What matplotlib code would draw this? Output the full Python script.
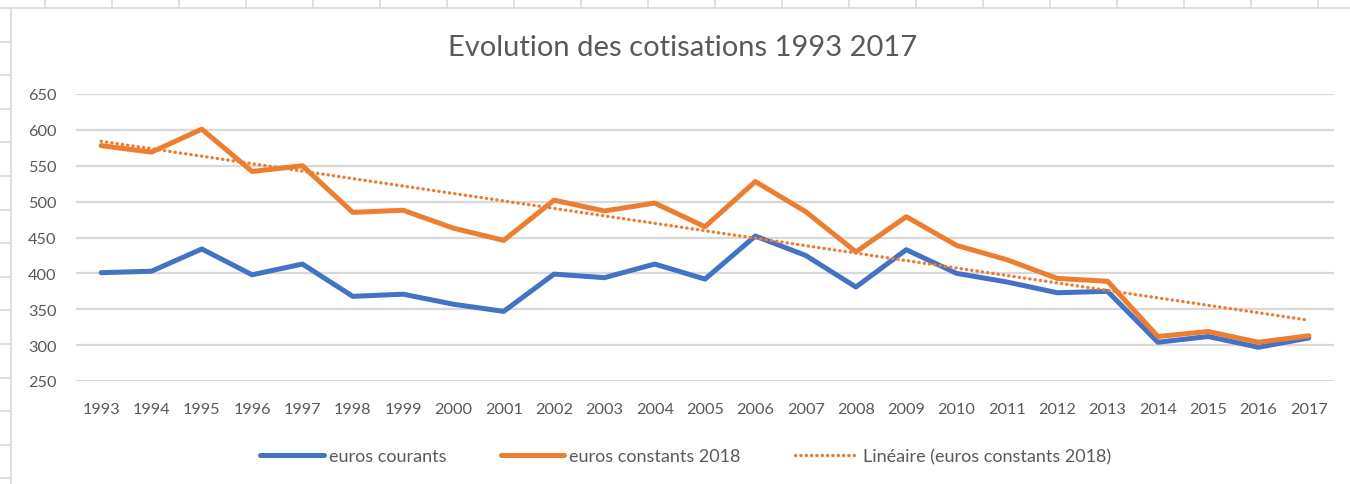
import matplotlib
matplotlib.use("Agg")
import matplotlib.pyplot as plt
import numpy as np
from matplotlib.lines import Line2D

years = list(range(1993, 2018))
euros_courants = [401, 403, 434, 398, 413, 368, 371, 357, 347, 399, 394, 413, 392, 452, 425,
                  381, 433, 400, 388, 373, 375, 304, 312, 297, 310]
euros_constants = [578, 569, 601, 542, 550, 485, 488, 463, 446, 502, 487, 498, 465, 528, 486,
                   430, 479, 439, 419, 393, 389, 312, 319, 304, 313]
yticks = [250, 300, 350, 400, 450, 500, 550, 600, 650]

title = "Evolution des cotisations 1993 2017"
labels = ["euros courants", "euros constants 2018", "Linéaire (euros constants 2018)"]

BLUE = "#4472C4"
ORANGE = "#ED7D31"
TXT = "#595959"
GRID = "#D9D9D9"

plt.rcParams['font.family'] = ['Lato', 'DejaVu Sans']

W, H = 1350, 485
fig = plt.figure(figsize=(W / 100, H / 100), dpi=100)
fig.patch.set_facecolor("white")

# spreadsheet background grid (outside the chart area)
sheet = "#D5DBE5"
for x in np.arange(45, W, 67):
    fig.add_artist(Line2D([x / W, x / W], [1, 1 - 9 / H], color=sheet, lw=1.2))
for y in np.arange(9, H, 33.6):
    fig.add_artist(Line2D([0, 11 / W], [1 - y / H, 1 - y / H], color=sheet, lw=1.2))
# chart border
fig.add_artist(Line2D([11 / W, 11 / W], [0, 1 - 9 / H], color="#D9D9D9", lw=1.2))
fig.add_artist(Line2D([11 / W, 1], [1 - 9 / H, 1 - 9 / H], color="#D9D9D9", lw=1.2))

ax = fig.add_axes([76 / W, 1 - 382 / H, (1334 - 76) / W, (382 - 95) / H])
x = np.arange(len(years))

ax.plot(x, euros_courants, color=BLUE, lw=3.6, solid_joinstyle="round", solid_capstyle="round",
        label=labels[0], zorder=3)
ax.plot(x, euros_constants, color=ORANGE, lw=3.6, solid_joinstyle="round", solid_capstyle="round",
        label=labels[1], zorder=4)
coef = np.polyfit(x, euros_constants, 1)
trend = np.polyval(coef, x)
ax.plot(x, trend, color=ORANGE, lw=2.4, linestyle=(0, (0.1, 1.5)), dash_capstyle="round",
        label=labels[2], zorder=5)

ax.set_xlim(-0.5, len(years) - 0.5)
ax.set_ylim(250, 650)
ax.set_yticks(yticks)
ax.set_xticks(x)
ax.set_xticklabels([str(y) for y in years])
ax.grid(axis="y", color=GRID, lw=1.6)
ax.set_axisbelow(True)
for s in ax.spines.values():
    s.set_visible(False)
ax.tick_params(axis="both", length=0, labelsize=11.7, colors=TXT)
ax.tick_params(axis="y", pad=14)
ax.tick_params(axis="x", pad=15)

fig.text(683 / W, 1 - 48 / H, title, ha="center", va="center", fontsize=21, color=TXT)

leg = fig.legend(loc="center", bbox_to_anchor=(686 / W, 1 - 457 / H), ncol=3, frameon=False,
                 fontsize=13, handlelength=3.5, handletextpad=0.3, columnspacing=3.0,
                 labelcolor=TXT)

fig.savefig("out.png", dpi=100, facecolor="white")
